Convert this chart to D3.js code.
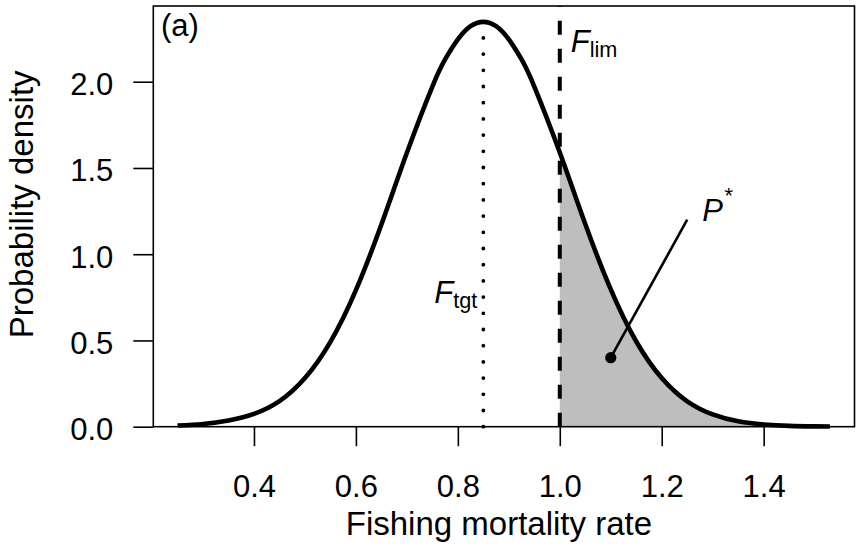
<!DOCTYPE html>
<html>
<head>
<meta charset="utf-8">
<script src="https://cdn.jsdelivr.net/npm/d3@7"></script>
<style>
  body { margin: 0; background: #fff; }
  text { font-family: "Liberation Sans", Arial, Helvetica, sans-serif; fill: #000; }
</style>
</head>
<body>
<svg id="chart" width="857" height="549"></svg>
<script>
// Fishing mortality rate (x) and its probability density (y)
const fishingRate = [0.25, 0.30, 0.35, 0.40, 0.45, 0.50, 0.55, 0.60, 0.65, 0.70, 0.75, 0.775, 0.80, 0.825, 0.85,
                     0.875, 0.90, 0.925, 0.95, 1.00, 1.05, 1.10, 1.15, 1.20, 1.25, 1.30, 1.35, 1.40, 1.45, 1.50, 1.53];
const density = [0.007, 0.016, 0.036, 0.074, 0.148, 0.282, 0.492, 0.792, 1.172, 1.588, 1.972, 2.129, 2.245, 2.322, 2.347,
                 2.322, 2.245, 2.129, 1.972, 1.590, 1.175, 0.796, 0.494, 0.282, 0.147, 0.071, 0.031, 0.013, 0.005, 0.002, 0.001];

const xTicks = [0.4, 0.6, 0.8, 1.0, 1.2, 1.4];
const yTicks = [0.0, 0.5, 1.0, 1.5, 2.0];

// Reference points
const fTarget = 0.85;
const fLimit = 1.0;
const pStarPoint = [1.1, 0.4];
const pStarLineEnd = [1.25, 1.2];

const svg = d3.select("#chart");
const box = { left: 153.3, right: 854.5, top: 6, bottom: 426.7 };

const x = d3.scaleLinear().domain([0.2025, 1.5782]).range([box.left, box.right]);
const y = d3.scaleLinear().domain([0, 2.439]).range([box.bottom, box.top]);

const pts = fishingRate.map((f, i) => [f, density[i]]);
const peak = d3.max(density);
const curve = d3.curveNatural;

// Shaded tail above F_lim
svg.append("clipPath").attr("id", "tail")
  .append("rect")
  .attr("x", x(fLimit)).attr("y", box.top)
  .attr("width", box.right - x(fLimit)).attr("height", box.bottom - box.top);

svg.append("path")
  .datum(pts)
  .attr("clip-path", "url(#tail)")
  .attr("fill", "#bebebe")
  .attr("d", d3.area().x(d => x(d[0])).y0(y(0)).y1(d => y(d[1])).curve(curve));

// F_tgt dotted line (up to the peak) and F_lim dashed line
svg.append("line")
  .attr("x1", x(fTarget)).attr("x2", x(fTarget))
  .attr("y1", y(0)).attr("y2", y(peak))
  .attr("stroke", "#000").attr("stroke-width", 3.8)
  .attr("stroke-linecap", "round").attr("stroke-dasharray", "0 16.2");

svg.append("line")
  .attr("x1", x(fLimit)).attr("x2", x(fLimit))
  .attr("y1", box.bottom).attr("y2", box.top)
  .attr("stroke", "#000").attr("stroke-width", 4)
  .attr("stroke-dasharray", "14 14");

// Density curve
svg.append("path")
  .datum(pts)
  .attr("fill", "none")
  .attr("stroke", "#000")
  .attr("stroke-width", 4.6)
  .attr("stroke-linejoin", "round")
  .attr("d", d3.line().x(d => x(d[0])).y(d => y(d[1])).curve(curve));

// P* pointer
svg.append("line")
  .attr("x1", x(pStarPoint[0])).attr("y1", y(pStarPoint[1]))
  .attr("x2", x(pStarLineEnd[0])).attr("y2", y(pStarLineEnd[1]))
  .attr("stroke", "#000").attr("stroke-width", 2.6);
svg.append("circle")
  .attr("cx", x(pStarPoint[0])).attr("cy", y(pStarPoint[1]))
  .attr("r", 5.6).attr("fill", "#000");

// Axes
const fs = 31;
const xAxis = svg.append("g")
  .attr("transform", `translate(0,${box.bottom})`)
  .call(d3.axisBottom(x).tickValues(xTicks).tickSize(19.5).tickPadding(29).tickFormat(d3.format(".1f")));
const yAxis = svg.append("g")
  .attr("transform", `translate(${box.left},0)`)
  .call(d3.axisLeft(y).tickValues(yTicks).tickSize(20).tickPadding(20).tickFormat(d3.format(".1f")));
[xAxis, yAxis].forEach(g => {
  g.select(".domain").remove();
  g.selectAll(".tick line").attr("stroke", "#000").attr("stroke-width", 1.6);
  g.selectAll(".tick text").attr("font-size", fs).attr("font-family", null).style("fill", "#000");
});
yAxis.selectAll(".tick text").attr("dy", "0.42em");

// Plot frame
svg.append("rect")
  .attr("x", box.left).attr("y", box.top)
  .attr("width", box.right - box.left).attr("height", box.bottom - box.top)
  .attr("fill", "none").attr("stroke", "#000").attr("stroke-width", 1.6);

// Axis titles
const titleSize = 33;
svg.append("text")
  .attr("x", (box.left + box.right) / 2 - 5).attr("y", 535)
  .attr("text-anchor", "middle").attr("font-size", titleSize)
  .text("Fishing mortality rate");
svg.append("text")
  .attr("transform", `translate(33,${(box.top + box.bottom) / 2 - 12}) rotate(-90)`)
  .attr("text-anchor", "middle").attr("font-size", titleSize)
  .text("Probability density");

// Panel tag
svg.append("text").attr("x", 161).attr("y", 35.5).attr("font-size", fs).text("(a)");

// Reference point labels
const fTgt = svg.append("text")
  .attr("x", x(fTarget) - 6).attr("y", y(0.715))
  .attr("text-anchor", "end").attr("font-size", fs);
fTgt.append("tspan").attr("font-style", "italic").text("F");
fTgt.append("tspan").attr("font-size", 21.7).attr("dy", 5).text("tgt");

const fLim = svg.append("text")
  .attr("x", x(fLimit) + 11).attr("y", y(2.174))
  .attr("font-size", fs);
fLim.append("tspan").attr("font-style", "italic").text("F");
fLim.append("tspan").attr("font-size", 21.7).attr("dy", 5).text("lim");

const pStar = svg.append("text")
  .attr("x", x(pStarLineEnd[0]) + 15).attr("y", 221)
  .attr("font-size", fs);
pStar.append("tspan").attr("font-style", "italic").text("P");
pStar.append("tspan").attr("font-size", 21.7).attr("dx", 1.5).attr("dy", -18).text("*");
</script>
</body>
</html>
